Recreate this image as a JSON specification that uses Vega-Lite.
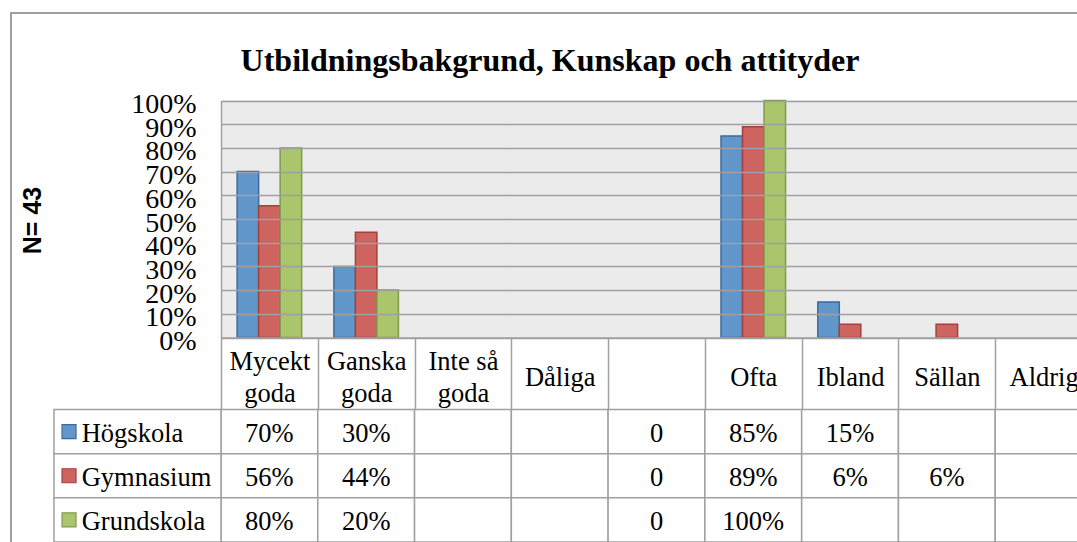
{
  "$schema": "https://vega.github.io/schema/vega-lite/v6.json",
  "width": 1100,
  "height": 560,
  "autosize": {"type": "none"},
  "padding": {"left": 11, "top": 13, "right": -34, "bottom": -31},
  "background": "white",
  "title": {
    "text": "Utbildningsbakgrund, Kunskap och attityder",
    "font": "Liberation Serif",
    "fontSize": 32,
    "fontWeight": "bold",
    "color": "black",
    "anchor": "middle",
    "frame": "group",
    "baseline": "alphabetic",
    "dx": -11,
    "offset": -90
  },
  "config": {
    "view": {"stroke": "#A0A0A0", "strokeWidth": 2},
    "font": "Liberation Serif"
  },
  "datasets": {
    "cells": [
      {"cat": "Mycekt goda", "series": "Högskola", "value": 0.70, "label": "70%"},
      {"cat": "Ganska goda", "series": "Högskola", "value": 0.30, "label": "30%"},
      {"cat": "Inte så goda", "series": "Högskola", "value": null, "label": ""},
      {"cat": "Dåliga", "series": "Högskola", "value": null, "label": ""},
      {"cat": "", "series": "Högskola", "value": 0, "label": "0"},
      {"cat": "Ofta", "series": "Högskola", "value": 0.85, "label": "85%"},
      {"cat": "Ibland", "series": "Högskola", "value": 0.15, "label": "15%"},
      {"cat": "Sällan", "series": "Högskola", "value": null, "label": ""},
      {"cat": "Aldrig", "series": "Högskola", "value": null, "label": ""},
      {"cat": "Mycekt goda", "series": "Gymnasium", "value": 0.556, "label": "56%"},
      {"cat": "Ganska goda", "series": "Gymnasium", "value": 0.444, "label": "44%"},
      {"cat": "Inte så goda", "series": "Gymnasium", "value": null, "label": ""},
      {"cat": "Dåliga", "series": "Gymnasium", "value": null, "label": ""},
      {"cat": "", "series": "Gymnasium", "value": 0, "label": "0"},
      {"cat": "Ofta", "series": "Gymnasium", "value": 0.889, "label": "89%"},
      {"cat": "Ibland", "series": "Gymnasium", "value": 0.056, "label": "6%"},
      {"cat": "Sällan", "series": "Gymnasium", "value": 0.056, "label": "6%"},
      {"cat": "Aldrig", "series": "Gymnasium", "value": null, "label": ""},
      {"cat": "Mycekt goda", "series": "Grundskola", "value": 0.80, "label": "80%"},
      {"cat": "Ganska goda", "series": "Grundskola", "value": 0.20, "label": "20%"},
      {"cat": "Inte så goda", "series": "Grundskola", "value": null, "label": ""},
      {"cat": "Dåliga", "series": "Grundskola", "value": null, "label": ""},
      {"cat": "", "series": "Grundskola", "value": 0, "label": "0"},
      {"cat": "Ofta", "series": "Grundskola", "value": 1.00, "label": "100%"},
      {"cat": "Ibland", "series": "Grundskola", "value": null, "label": ""},
      {"cat": "Sällan", "series": "Grundskola", "value": null, "label": ""},
      {"cat": "Aldrig", "series": "Grundskola", "value": null, "label": ""}
    ],
    "series": [
      {"series": "Högskola"},
      {"series": "Gymnasium"},
      {"series": "Grundskola"}
    ]
  },
  "resolve": {"scale": {"x": "independent", "y": "independent"}},
  "layer": [
    {
      "data": {"name": "cells"},
      "resolve": {"scale": {"y": "independent"}},
      "encoding": {
        "x": {
          "field": "cat",
          "type": "nominal",
          "scale": {
            "domain": ["Mycekt goda", "Ganska goda", "Inte så goda", "Dåliga", "", "Ofta", "Ibland", "Sällan", "Aldrig"],
            "range": [210, 1081],
            "paddingInner": 0,
            "paddingOuter": 0
          },
          "axis": {
            "orient": "bottom",
            "offset": -235.5,
            "title": null,
            "grid": false,
            "domain": true,
            "domainColor": "#A0A0A0",
            "domainWidth": 1.5,
            "ticks": true,
            "tickBand": "extent",
            "tickSize": 72,
            "tickColor": "#A0A0A0",
            "tickWidth": 1.5,
            "labelAngle": 0,
            "labelFont": "Liberation Serif",
            "labelFontSize": 26.5,
            "labelColor": "black",
            "labelBaseline": "middle",
            "labelLineHeight": 32,
            "labelPadding": {"condition": {"test": "indexof(datum.label, ' goda') > 0", "value": -48.5}, "value": -32.5},
            "labelOverlap": false,
            "labelExpr": "indexof(datum.label, ' goda') > 0 ? [replace(datum.label, ' goda', ''), 'goda'] : datum.label",
            "zindex": 1
          }
        }
      },
      "layer": [
        {
          "layer": [
            {
              "mark": {"type": "rect", "fill": "#EBEBEB", "zindex": 0},
              "encoding": {
                "y": {
                  "datum": 0,
                  "type": "quantitative",
                  "scale": {"domain": [0, 1], "range": [324.5, 87.5], "nice": false},
                  "axis": {
                    "orient": "left",
                    "offset": -210,
                    "format": ".0%",
                    "tickCount": 10,
                    "grid": true,
                    "gridColor": "#A0A0A0",
                    "gridWidth": 1.5,
                    "gridOpacity": 1,
                    "domain": true,
                    "domainColor": "#A0A0A0",
                    "domainWidth": 1.5,
                    "ticks": false,
                    "labelPadding": 25,
                    "labelFont": "Liberation Serif",
                    "labelFontSize": 28,
                    "labelColor": "black",
                    "labelOverlap": false,
                    "labelBaseline": "middle",
                    "labelOffset": 4,
                    "title": "N= 43",
                    "titleFont": "Liberation Sans",
                    "titleFontSize": 25,
                    "titleFontWeight": "bold",
                    "titleColor": "black",
                    "titleAngle": 270,
                    "titleBaseline": "alphabetic",
                    "titleAlign": "center",
                    "titleX": -181,
                    "titleY": 207,
                    "zindex": 1
                  }
                },
                "y2": {"datum": 1}
              }
            },
            {
              "transform": [{"filter": "datum.value > 0"}],
              "mark": {"type": "bar", "strokeWidth": 1.5, "zindex": 2},
              "encoding": {
                "y": {"field": "value", "type": "quantitative"},
                "xOffset": {
                  "field": "series",
                  "type": "nominal",
                  "scale": {"domain": ["Högskola", "Gymnasium", "Grundskola"], "paddingInner": 0, "paddingOuter": 0.75}
                },
                "color": {
                  "field": "series",
                  "type": "nominal",
                  "scale": {"domain": ["Högskola", "Gymnasium", "Grundskola"], "range": ["#6297CC", "#CD645F", "#AAC56C"]},
                  "legend": null
                },
                "stroke": {
                  "field": "series",
                  "type": "nominal",
                  "scale": {"domain": ["Högskola", "Gymnasium", "Grundskola"], "range": ["#3D6A9E", "#A4403D", "#7F9C4A"]},
                  "legend": null
                }
              }
            }
          ]
        },
        {
          "encoding": {
            "y": {
              "field": "series",
              "type": "nominal",
              "scale": {"domain": ["Högskola", "Gymnasium", "Grundskola"], "range": [396.5, 529], "paddingInner": 0, "paddingOuter": 0},
              "axis": null
            }
          },
          "layer": [
            {"mark": {"type": "rect", "fill": "white", "stroke": "#A0A0A0", "strokeWidth": 1.5}},
            {
              "mark": {"type": "text", "font": "Liberation Serif", "fontSize": 26.5, "baseline": "middle", "dy": 2, "color": "black"},
              "encoding": {"text": {"field": "label"}}
            }
          ]
        }
      ]
    },
    {
      "data": {"name": "series"},
      "encoding": {
        "y": {
          "field": "series",
          "type": "nominal",
          "scale": {"domain": ["Högskola", "Gymnasium", "Grundskola"], "range": [396.5, 529], "paddingInner": 0, "paddingOuter": 0},
          "axis": null
        }
      },
      "layer": [
        {
          "mark": {"type": "rect", "fill": "white", "stroke": "#A0A0A0", "strokeWidth": 1.5},
          "encoding": {
            "x": {"datum": "legend", "type": "nominal", "scale": {"domain": ["legend"], "range": [43, 210], "paddingInner": 0, "paddingOuter": 0}, "axis": null}
          }
        },
        {
          "mark": {"type": "point", "shape": "square", "filled": true, "size": 196, "strokeWidth": 1.2, "opacity": 1},
          "encoding": {
            "x": {"datum": "legend", "type": "nominal", "bandPosition": 0.09, "axis": null},
            "color": {"field": "series", "type": "nominal", "legend": null},
            "stroke": {"field": "series", "type": "nominal", "legend": null}
          }
        },
        {
          "mark": {"type": "text", "align": "left", "font": "Liberation Serif", "fontSize": 26.5, "baseline": "middle", "dy": 2, "color": "black"},
          "encoding": {
            "x": {"datum": "legend", "type": "nominal", "bandPosition": 0.166, "axis": null},
            "text": {"field": "series"}
          }
        }
      ]
    }
  ]
}
